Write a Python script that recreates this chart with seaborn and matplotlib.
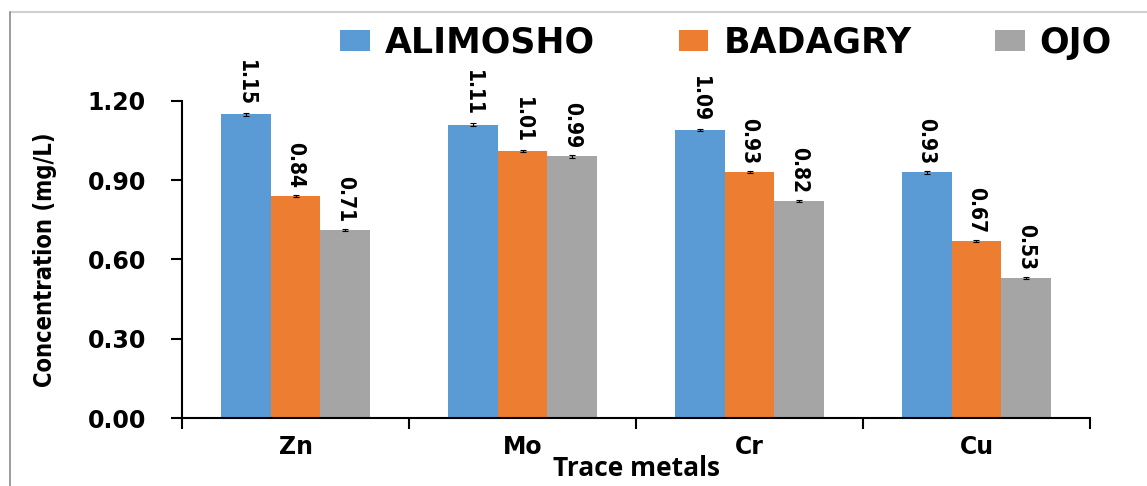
import numpy as np
import pandas as pd
import matplotlib
matplotlib.use("Agg")
import matplotlib.pyplot as plt
import seaborn as sns
from matplotlib.lines import Line2D
from matplotlib.patches import Patch

# ---- data ----
metals = ["Zn", "Mo", "Cr", "Cu"]
sites = ["ALIMOSHO", "BADAGRY", "OJO"]
alimosho = [1.15, 1.11, 1.09, 0.93]
badagry = [0.84, 1.01, 0.93, 0.67]
ojo = [0.71, 0.99, 0.82, 0.53]
err_alimosho = [0.005, 0.005, 0.005, 0.005]
err_badagry = [0.004, 0.004, 0.004, 0.004]
err_ojo = [0.004, 0.004, 0.004, 0.004]
colors = ["#5B9BD5", "#ED7D31", "#A5A5A5"]
yticks = [0.00, 0.30, 0.60, 0.90, 1.20]

values = {"ALIMOSHO": alimosho, "BADAGRY": badagry, "OJO": ojo}
errors = [err_alimosho, err_badagry, err_ojo]

df = pd.DataFrame(
    [(m, s, values[s][i]) for s in sites for i, m in enumerate(metals)],
    columns=["metal", "site", "conc"],
)

sns.set_style("white")
plt.rcParams["font.family"] = ["DejaVu Sans"]
for k in ["text.color", "axes.labelcolor", "xtick.color", "ytick.color"]:
    plt.rcParams[k] = "black"

fig = plt.figure(figsize=(11.47, 4.86), dpi=100)
ax = fig.add_axes([0.1587, 0.1399, 0.7916, 0.6523])

sns.barplot(data=df, x="metal", y="conc", hue="site", order=metals,
            hue_order=sites, palette=colors, width=0.66, saturation=1,
            linewidth=0, errorbar=None, legend=False, ax=ax)

# error bars and rotated value labels
for cont, errs in zip(ax.containers, errors):
    for bar, e in zip(cont, errs):
        xc = bar.get_x() + bar.get_width() / 2
        h = bar.get_height()
        ax.errorbar(xc, h, yerr=e, color="black", lw=0.8, capsize=2.5,
                    capthick=0.8, zorder=5)
        ax.annotate(f"{h:.2f}", (xc, h), xytext=(0, 6),
                    textcoords="offset points", rotation=-90,
                    ha="center", va="bottom", fontsize=15,
                    fontweight="bold", fontstretch="condensed")

ax.set_ylim(0, 1.2)
ax.set_xlim(-0.5, len(metals) - 0.5)
ax.set_yticks(yticks)
ax.set_yticklabels([f"{v:.2f}" for v in yticks], fontsize=17, fontweight="bold")
ax.set_xticks(range(len(metals)))
ax.set_xticklabels(metals, fontsize=17, fontweight="bold")
ax.set_xticks(np.arange(-0.5, len(metals)), minor=True)
ax.tick_params(axis="x", which="major", length=0, pad=12)
ax.tick_params(axis="x", which="minor", length=8, width=1.5, direction="out",
               color="black", bottom=True)
ax.tick_params(axis="y", length=8, width=1.5, direction="out", color="black",
               left=True, pad=18)

for side in ["top", "right"]:
    ax.spines[side].set_visible(False)
for side in ["left", "bottom"]:
    ax.spines[side].set_color("black")
    ax.spines[side].set_linewidth(1.5)

ax.set_ylabel("Concentration (mg/L)", fontsize=17, fontweight="bold",
              fontstretch="condensed")
ax.yaxis.set_label_coords(-0.151, 0.5)
ax.yaxis.label.set_ha("center")
ax.yaxis.label.set_va("center")

ax.set_xlabel("Trace metals", fontsize=19, fontweight="bold",
              family=["Open Sans", "DejaVu Sans"])
ax.xaxis.set_label_coords(0.5, -0.183)
ax.xaxis.label.set_ha("center")
ax.xaxis.label.set_va("baseline")

handles = [Patch(facecolor=c, edgecolor="none") for c in colors]
fig.legend(handles, sites, loc="center", bbox_to_anchor=(0.633, 0.912),
           ncol=3, frameon=False, handlelength=0.86, handleheight=0.52,
           handletextpad=0.43, columnspacing=2.4,
           prop={"size": 25, "weight": "bold"})

# light frame around the figure (top and left edges)
fig.add_artist(Line2D([10 / 1147, 1], [1 - 12 / 486, 1 - 12 / 486],
                      transform=fig.transFigure, color="#d0d0d0", lw=1.5))
fig.add_artist(Line2D([10 / 1147, 10 / 1147], [0, 1 - 12 / 486],
                      transform=fig.transFigure, color="#8a8a8a", lw=1.2))

fig.savefig("out.png", dpi=100)
